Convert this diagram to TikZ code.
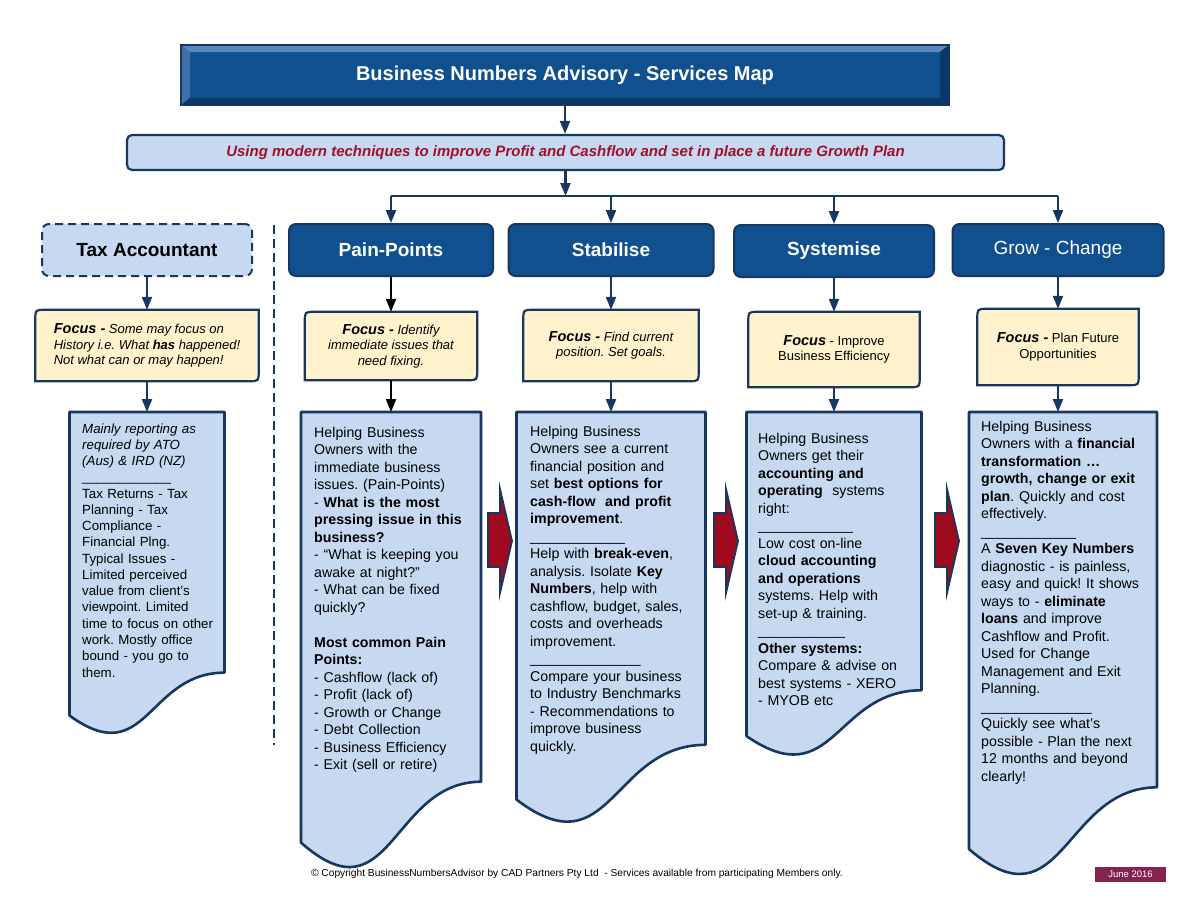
\documentclass[tikz,border=0pt]{standalone}
\usepackage{fontspec}
\setmainfont{Liberation Sans}
\usetikzlibrary{arrows.meta,calc,backgrounds}
\frenchspacing

\definecolor{bnblue}{HTML}{10508F}
\definecolor{bnnavy}{HTML}{17375E}
\definecolor{bnlight}{HTML}{C6D9F1}
\definecolor{bncream}{HTML}{FFF2CC}
\definecolor{bnred}{HTML}{A0102A}
\definecolor{bnarrow}{HTML}{A00A1E}
\definecolor{bnmaroon}{HTML}{862250}
\definecolor{bnbevtop}{HTML}{5A86BB}
\definecolor{bnbevleft}{HTML}{3F70A8}
\definecolor{bnbevdark}{HTML}{0B3866}

\newcommand{\focw}[1]{{\bfseries\itshape\fontsize{14.5}{15.5}\selectfont #1}}
\newcommand{\rulebar}[1]{\foreach \i in {1,...,#1}{\_}}

% focus box: round top-left and bottom-right corners
\newcommand{\focusshape}[1]{%
  \begin{pgfonlayer}{background}
    \draw[focusline] ([xshift=10pt]#1.north west) -- (#1.north east) -- ([yshift=10pt]#1.south east)
      .. controls (#1.south east) .. ([xshift=-10pt]#1.south east) -- (#1.south west)
      -- ([yshift=-10pt]#1.north west) .. controls (#1.north west) .. ([xshift=10pt]#1.north west) -- cycle;
  \end{pgfonlayer}}

% document shape with wavy bottom
\newcommand{\docshape}[1]{%
  \begin{pgfonlayer}{background}
    \draw[docline] (#1.north west) -- (#1.north east) -- ($(#1.north east)!0.802!(#1.south east)$)
      .. controls ($(#1.north)!0.802!(#1.south)$) and ($(#1.north)!1.107!(#1.south)$)
      .. ($(#1.north west)!0.934!(#1.south west)$) -- cycle;
  \end{pgfonlayer}}

\tikzset{
  titlebox/.style={minimum width=768pt, minimum height=60pt, fill=bnblue, draw=bnnavy,
    line width=1.5pt, text=white, font=\bfseries\fontsize{20}{24}\selectfont,
    path picture={
      \path (path picture bounding box.north west) coordinate (a)
            (path picture bounding box.south east) coordinate (b);
      \coordinate (c) at (b |- a);
      \coordinate (d) at (a |- b);
      \fill[bnbevtop] (a) -- (c) -- ($(c)+(-9,7)$) -- ($(a)+(9,7)$) -- cycle;
      \fill[bnbevleft] (a) -- ($(a)+(9,7)$) -- ($(d)+(9,-7)$) -- (d) -- cycle;
      \fill[bnbevdark] (d) -- (b) -- ($(b)+(-9,-7)$) -- ($(d)+(9,-7)$) -- cycle;
      \fill[bnbevdark] (c) -- (b) -- ($(b)+(-9,-7)$) -- ($(c)+(-9,7)$) -- cycle;
    }},
  subbox/.style={minimum width=877pt, minimum height=35pt, rounded corners=5pt, fill=bnlight,
    draw=bnnavy, line width=2.2pt, text=bnred, font=\bfseries\itshape\fontsize{15}{17}\selectfont},
  hdr/.style={rounded corners=7pt, fill=bnblue, draw=bnnavy, line width=2pt, text=white,
    font=\bfseries\fontsize{19}{22}\selectfont, minimum height=52pt, inner sep=0pt},
  taxhdr/.style={hdr, fill=bnlight, text=black, dash pattern=on 8pt off 5pt},
  focusbox/.style={inner sep=0pt, align=center, font=\itshape\fontsize{13}{15.5}\selectfont},
  focusline/.style={fill=bncream, draw=bnnavy, line width=2.2pt},
  docbox/.style={inner sep=0pt, outer sep=0pt},
  docline/.style={fill=bnlight, draw=bnnavy, line width=2.6pt, line join=round},
  doctext/.style={anchor=base west, inner sep=0pt, text width=175pt, align=left,
    font=\fontsize{14.2}{17.5}\selectfont},
  conn/.style={draw=bnnavy, line width=2.2pt, -{Triangle[length=13pt,width=10pt]}},
  blackconn/.style={conn, draw=black},
  busline/.style={draw=bnnavy, line width=2.2pt},
  divline/.style={draw=bnnavy, line width=2.2pt, dash pattern=on 9pt off 5pt},
}

\begin{document}
\begin{tikzpicture}[x=1pt, y=-1pt]
  \useasboundingbox (0,0) rectangle (1200,900);

  % top
  \node[titlebox] (title) at (565,75) {Business Numbers Advisory - Services Map};
  \node[subbox] (sub) at (565.5,152.5) {Using modern techniques to improve Profit and Cashflow and set in place a future Growth Plan};

  % headers
  \node[taxhdr, minimum width=210pt] (taxhdr) at (147,250) {Tax Accountant};
  \node[hdr, minimum width=204pt] (painhdr) at (391,250) {Pain-Points};
  \node[hdr, minimum width=205pt] (stabhdr) at (611,250) {Stabilise};
  \node[hdr, minimum width=200pt] (syshdr) at (834,251) {Systemise};
  \node[hdr, minimum width=211pt, font=\fontsize{19}{22}\selectfont] (growhdr) at (1058,250) {Grow - Change};

  % focus boxes
  \node[focusbox, align=left, minimum width=223pt, minimum height=71pt] (taxfocus) at (147,345.5)
    {\focw{Focus -} Some may focus on\\ History i.e. What \textbf{has} happened!\\ Not what can or may happen!};
  \node[focusbox, minimum width=172pt, minimum height=68pt] (painfocus) at (391,346)
    {\focw{Focus -} Identify\\ immediate issues that\\ need fixing.};
  \node[focusbox, minimum width=175pt, minimum height=71pt] (stabfocus) at (611,345.5)
    {\focw{Focus -} Find current\\ position. Set goals.};
  \node[focusbox, minimum width=171pt, minimum height=75pt, font=\fontsize{13}{15.5}\selectfont] (sysfocus) at (834,349.5)
    {\focw{Focus} - Improve\\ Business Efficiency};
  \node[focusbox, minimum width=161pt, minimum height=76pt, font=\fontsize{13}{15.5}\selectfont] (growfocus) at (1058,347)
    {\focw{Focus -} Plan Future\\ Opportunities};
  \foreach \c in {tax,pain,stab,sys,grow}
    \focusshape{\c focus};

  % text boxes
  \node[docbox, minimum width=155pt, minimum height=325pt] (taxbox) at (147,574.5) {};
  \node[docbox, minimum width=180pt, minimum height=461pt] (painbox) at (391,642.5) {};
  \node[docbox, minimum width=189pt, minimum height=415pt] (stabbox) at (611,619.5) {};
  \node[docbox, minimum width=175pt, minimum height=347pt] (sysbox) at (834,585.5) {};
  \node[docbox, minimum width=188pt, minimum height=468pt] (growbox) at (1063,646) {};
  \foreach \c in {tax,pain,stab,sys,grow}
    \docshape{\c box};

  \node[doctext, text width=150pt, font=\fontsize{13.3}{16.27}\selectfont] (taxtext) at (82,433)
    {\textit{Mainly reporting as}\\ \textit{required by ATO}\\ \textit{(Aus) \& IRD (NZ)}\\
     \rulebar{12}\\ Tax Returns - Tax\\ Planning - Tax\\ Compliance -\\ Financial Plng.\\
     Typical Issues -\\ Limited perceived\\ value from client's\\ viewpoint. Limited\\
     time to focus on other\\ work. Mostly office\\ bound - you go to\\ them.};
  \node[doctext] (paintext) at (314,437)
    {Helping Business\\ Owners with the\\ immediate business\\ issues. (Pain-Points)\\
     - \textbf{What is the most}\\ \textbf{pressing issue in this}\\ \textbf{business?}\\
     - “What is keeping you\\ awake at night?”\\ - What can be fixed\\ quickly?\\ \mbox{}\\
     \textbf{Most common Pain}\\ \textbf{Points:}\\ - Cashflow (lack of)\\ - Profit (lack of)\\
     - Growth or Change\\ - Debt Collection\\ - Business Efficiency\\ - Exit (sell or retire)};
  \node[doctext] (stabtext) at (530,436)
    {Helping Business\\ Owners see a current\\ financial position and\\ set \textbf{best options for}\\
     \textbf{cash-flow\ \ and profit}\\ \textbf{improvement}.\\ \rulebar{12}\\
     Help with \textbf{break-even},\\ analysis. Isolate \textbf{Key}\\ \textbf{Numbers}, help with\\
     cashflow, budget, sales,\\ costs and overheads\\ improvement.\\ \rulebar{14}\\
     Compare your business\\ to Industry Benchmarks\\ - Recommendations to\\ improve business\\ quickly.};
  \node[doctext] (systext) at (758,443)
    {Helping Business\\ Owners get their\\ \textbf{accounting and}\\ \textbf{operating}\ \ systems\\ right:\\
     \rulebar{12}\\ Low cost on-line\\ \textbf{cloud accounting}\\ \textbf{and operations}\\
     systems. Help with\\ set-up \& training.\\ \rulebar{11}\\ \textbf{Other systems:}\\
     Compare \& advise on\\ best systems - XERO\\ - MYOB etc};
  \node[doctext] (growtext) at (981,431)
    {Helping Business\\ Owners with a \textbf{financial}\\ \textbf{transformation …}\\
     \textbf{growth, change or exit}\\ \textbf{plan}. Quickly and cost\\ effectively.\\ \rulebar{12}\\
     A \textbf{Seven Key Numbers}\\ diagnostic - is painless,\\ easy and quick! It shows\\
     ways to - \textbf{eliminate}\\ \textbf{loans} and improve\\ Cashflow and Profit.\\
     Used for Change\\ Management and Exit\\ Planning.\\ \rulebar{14}\\
     Quickly see what's\\ possible - Plan the next\\ 12 months and beyond\\ clearly!};

  % red step arrows
  \foreach \x in {488,714,935}
  {
    \draw[bnnavy, line width=1.8pt, fill=bnarrow] (\x,513) -- (\x+12,513) -- (\x+12,489) -- (\x+24,541)
      -- (\x+12,593) -- (\x+12,567) -- (\x,567) -- cycle;
  }

  % connectors
  \coordinate (bus) at (566,196);
  \draw[conn] (title.south) -- (title.south |- sub.north);
  \draw[conn] (sub.south) -- (sub.south |- bus);
  \draw[busline] (painhdr.north |- bus) -- (growhdr.north |- bus);
  \foreach \c in {pain,stab,sys,grow}
    \draw[conn] (\c hdr.north |- bus) -- (\c hdr.north);
  \foreach \c in {tax,stab,sys,grow}
  {
    \draw[conn] (\c hdr.south) -- (\c hdr.south |- \c focus.north);
    \draw[conn] (\c focus.south) -- (\c focus.south |- \c box.north);
  }
  \draw[blackconn] (painhdr.south) -- (painfocus.north);
  \draw[blackconn] (painfocus.south) -- (painbox.north);

  % divider
  \coordinate (divtop) at (274,225);
  \coordinate (divbot) at (274,745);
  \draw[divline] (divtop) -- (divbot);

  % footer
  \node[font=\fontsize{10.2}{12}\selectfont, inner sep=0pt] (copy) at (577,874)
    {© Copyright BusinessNumbersAdvisor by CAD Partners Pty Ltd\ \ - Services available from participating Members only.};
  \node[fill=bnmaroon, text=white, minimum width=71pt, minimum height=15pt, inner sep=0pt,
    font=\fontsize{9.5}{11}\selectfont] (date) at (1130.5,874.5) {June 2016};
\end{tikzpicture}
\end{document}
